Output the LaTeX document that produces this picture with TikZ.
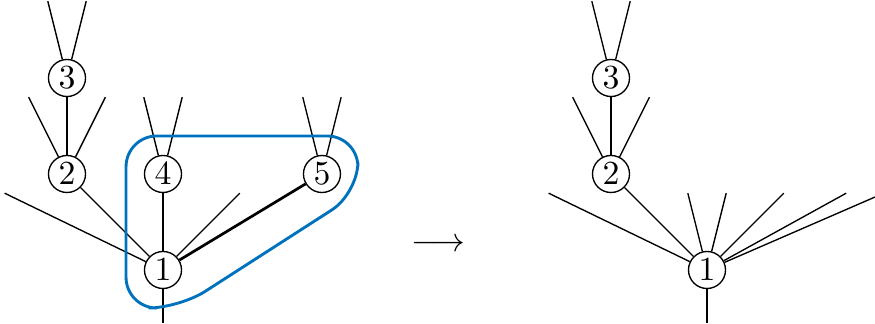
\documentclass[tikz,border=0pt]{standalone}
\definecolor{hullblue}{RGB}{0,114,189}
\begin{document}
\begin{tikzpicture}[
  vtx/.style={circle,draw,inner sep=1pt,fill=white},
  heavy/.style={thick},
  hull/.style={draw=hullblue,line width=0.85pt,rounded corners=0.32cm}
]
\useasboundingbox (-1.698,-0.5625) rectangle (7.417,2.8125);
% ---------- left tree ----------
\node[vtx] (l1) at (0,0) {$1$};
\node[vtx] (l2) at (-1,1) {$2$};
\node[vtx] (l3) at (-1,2) {$3$};
\node[vtx] (l4) at (0,1) {$4$};
\node[vtx] (l5) at (1.656,1) {$5$};
\coordinate (l3a) at (-1.2,2.8);
\coordinate (l3b) at (-0.8,2.8);
\coordinate (l2a) at (-1.4,1.8);
\coordinate (l2b) at (-0.6,1.8);
\coordinate (l4a) at (-0.2,1.8);
\coordinate (l4b) at (0.2,1.8);
\coordinate (l5a) at (1.456,1.8);
\coordinate (l5b) at (1.856,1.8);
\coordinate (l1a) at (-1.65,0.8);
\coordinate (l1b) at (0.8,0.8);
\coordinate (l1c) at (0,-0.55);
\draw (l3) -- (l3a); \draw (l3) -- (l3b);
\draw (l2) -- (l2a); \draw (l2) -- (l2b); \draw (l2) -- (l3);
\draw (l4) -- (l4a); \draw (l4) -- (l4b);
\draw (l5) -- (l5a); \draw (l5) -- (l5b);
\draw (l1) -- (l1a); \draw (l1) -- (l2); \draw (l1) -- (l1b); \draw (l1) -- (l1c);
\draw[heavy] (l1) -- (l4);
\draw[heavy] (l1) -- (l5);
\draw[hull] (-0.385,-0.396) -- (-0.385,1.396) -- (2.03,1.396) -- (2.03,0.8) -- (0.17,-0.396) -- cycle;
% ---------- arrow ----------
\node (arr) at (2.87,0.26) {$\longrightarrow$};
% ---------- right tree ----------
\node[vtx] (r1) at (5.667,0) {$1$};
\node[vtx] (r2) at (4.667,1) {$2$};
\node[vtx] (r3) at (4.667,2) {$3$};
\coordinate (r3a) at (4.467,2.8);
\coordinate (r3b) at (4.867,2.8);
\coordinate (r2a) at (4.267,1.8);
\coordinate (r2b) at (5.067,1.8);
\coordinate (r1a) at (4.017,0.8);
\coordinate (r1b) at (5.467,0.8);
\coordinate (r1c) at (5.867,0.8);
\coordinate (r1d) at (6.467,0.8);
\coordinate (r1e) at (7.117,0.8);
\coordinate (r1f) at (7.417,0.76);
\coordinate (r1g) at (5.667,-0.55);
\draw (r3) -- (r3a); \draw (r3) -- (r3b);
\draw (r2) -- (r2a); \draw (r2) -- (r2b); \draw (r2) -- (r3);
\draw (r1) -- (r1a); \draw (r1) -- (r2);
\draw (r1) -- (r1b); \draw (r1) -- (r1c);
\draw (r1) -- (r1d); \draw (r1) -- (r1e); \draw (r1) -- (r1f);
\draw (r1) -- (r1g);
\end{tikzpicture}
\end{document}
